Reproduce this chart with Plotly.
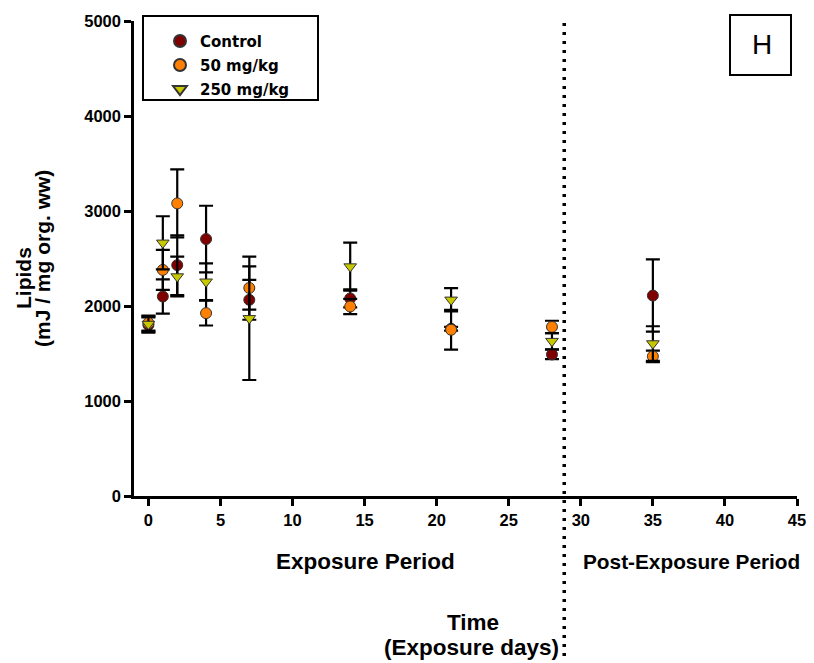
import plotly.graph_objects as go

days = [0, 1, 2, 4, 7, 14, 21, 28, 35]
control = [1800, 2100, 2430, 2705, 2065, 2080, 1760, 1490, 2110]
control_err = [80, 180, 315, 350, 210, 95, 20, 50, 380]
mg50 = [1820, 2380, 3080, 1925, 2190, 1995, 1750, 1780, 1470]
mg50_err = [80, 210, 358, 130, 228, 80, 210, 65, 60]
mg250 = [1810, 2665, 2310, 2255, 1870, 2415, 2065, 1630, 1605]
mg250_err = [80, 280, 210, 193, 649, 253, 123, 85, 182]
series_names = ["Control", "50 mg/kg", "250 mg/kg"]
xticks = [0, 5, 10, 15, 20, 25, 30, 35, 40, 45]
yticks = [0, 1000, 2000, 3000, 4000, 5000]
period_boundary = 28.85

series = [
    (series_names[0], control, control_err, "circle", "#800000"),
    (series_names[1], mg50, mg50_err, "circle", "#FF8000"),
    (series_names[2], mg250, mg250_err, "triangle-down", "#C8C800"),
]

FONT = "Liberation Sans, Arial, sans-serif"
LFONT = "DejaVu Sans, sans-serif"

# page is offset 8px by body margin; plot area in screen px: x 134..797, y 21..496
def px(x):
    return (x - 134) / 663

def py(y):
    return (496 - y) / 475

fig = go.Figure()
for i, (name, vals, errs, sym, col) in enumerate(series):
    fig.add_trace(go.Scatter(
        x=days, y=vals, mode="markers", name="<b>" + name + "</b>",
        legendgroup="g%d" % i,
        marker=dict(symbol=sym, color=col, size=11,
                    line=dict(color="#333333", width=1)),
        error_y=dict(type="data", array=errs, visible=True,
                     color="black", thickness=2.2, width=7),
    ))

fig.add_shape(type="line", xref="x", yref="paper", x0=period_boundary, x1=period_boundary,
              y0=py(656), y1=1.0, line=dict(color="black", width=3.5, dash="3px,6px"))

# panel label box
fig.add_shape(type="rect", xref="paper", yref="paper",
              x0=px(730), x1=px(791), y0=py(75), y1=py(15),
              line=dict(color="black", width=2))
fig.add_annotation(xref="paper", yref="paper", x=px(762), y=py(45),
                   xanchor="center", yanchor="middle",
                   text="H", showarrow=False, font=dict(family=FONT, size=28, color="black"))

# legend frame
fig.add_shape(type="rect", xref="paper", yref="paper",
              x0=px(143), x1=px(318), y0=py(100), y1=py(16),
              line=dict(color="black", width=2))

for txt, x, y in [("<b>Lipids</b>", 23, 278), ("<b>(mJ / mg org. ww)</b>", 43, 258)]:
    fig.add_annotation(xref="paper", yref="paper", x=px(x), y=py(y),
                       xanchor="center", yanchor="middle",
                       text=txt, showarrow=False, textangle=-90,
                       font=dict(family=FONT, size=21, color="black"))
for txt, x, y, s in [("<b>Exposure Period</b>", 365, 561, 22.5),
                     ("<b>Post-Exposure Period</b>", 691, 561, 20.8),
                     ("<b>Time</b>", 473, 622, 22.5),
                     ("<b>(Exposure days)</b>", 471, 647, 22.5)]:
    fig.add_annotation(xref="paper", yref="paper", x=px(x), y=py(y),
                       xanchor="center", yanchor="middle",
                       text=txt, showarrow=False,
                       font=dict(family=FONT, size=s, color="black"))

axis_common = dict(showgrid=False, zeroline=False, showline=True, linecolor="black",
                   linewidth=2.5, ticks="outside", ticklen=7, tickwidth=2.5, tickcolor="black",
                   automargin=False,
                   tickfont=dict(family=FONT, size=16.5, color="black", weight="bold"))

fig.update_layout(
    width=806, height=655,
    margin=dict(l=126, r=17, t=13, b=167, autoexpand=False),
    paper_bgcolor="white", plot_bgcolor="white",
    font=dict(family=FONT, color="black"),
    showlegend=True,
    legend=dict(x=px(160), y=0.992, xanchor="left", yanchor="top",
                bgcolor="rgba(0,0,0,0)", borderwidth=0, tracegroupgap=1.5,
                font=dict(family=LFONT, size=15, color="black"),
                itemsizing="constant"),
    xaxis=dict(range=[-1, 45], tickvals=xticks, **axis_common),
    yaxis=dict(range=[0, 5000], tickvals=yticks, **axis_common),
)

fig.write_html("out.html")
